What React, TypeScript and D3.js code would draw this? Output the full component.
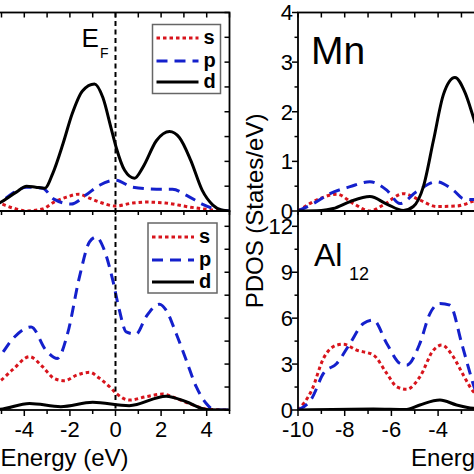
import React from "react";
import * as d3 from "d3";

// ---------- data (energy in eV, PDOS in states/eV) ----------
// Left column, upper panel
const tlDE = [-5.5, -5.1, -4.35, -3.9, -3.5, -3.1, -2.75, -2.3, -1.9, -1.45, -0.92, -0.55, -0.2, 0.03, 0.4, 0.83, 1.2, 1.8, 2.37, 2.8, 3.3, 3.8, 4.27, 4.65, 5.0];
const tlD = [0.08, 0.16, 0.38, 0.5, 0.48, 0.46, 0.76, 1.36, 1.96, 2.42, 2.56, 2.28, 1.68, 1.28, 0.82, 0.66, 0.88, 1.42, 1.6, 1.48, 1.02, 0.42, 0.12, 0.02, 0];
const tlPE = [-5.5, -5.1, -4.5, -3.9, -3.2, -2.7, -1.95, -1.3, -0.7, 0, 0.75, 1.8, 2.5, 3.1, 3.8, 4.55, 5.0];
const tlP = [0.08, 0.16, 0.36, 0.48, 0.46, 0.24, 0.14, 0.32, 0.52, 0.62, 0.48, 0.44, 0.44, 0.32, 0.14, 0.02, 0];
const tlSE = [-5.5, -5.1, -4.5, -3.9, -3.2, -2.7, -2.15, -1.6, -1.15, -0.7, 0, 0.75, 1.35, 2.2, 3.25, 4.27, 5.0];
const tlS = [0.22, 0.16, 0.06, 0.0, 0.04, 0.18, 0.28, 0.34, 0.26, 0.18, 0.1, 0.16, 0.18, 0.16, 0.08, 0.02, 0];

// Left column, lower panel
const blPE = [-5.5, -5.1, -4.5, -3.7, -3.05, -2.55, -2.1, -1.58, -1.14, -0.85, -0.48, -0.12, 0.17, 0.47, 0.9, 1.34, 1.93, 2.22, 2.66, 3.1, 3.54, 3.98, 4.35, 5.0];
const blP = [3.0, 3.48, 4.67, 5.43, 3.91, 3.37, 5.0, 8.7, 10.98, 11.3, 10.4, 8.48, 6.52, 5.1, 4.96, 6.09, 6.91, 6.52, 5.0, 3.26, 1.52, 0.43, 0, 0];
const blSE = [-5.5, -5.1, -4.5, -3.77, -3.2, -2.7, -2.24, -1.7, -1.14, -0.7, -0.26, 0.03, 0.6, 1.34, 2.08, 2.66, 3.4, 4.1, 5.0];
const blS = [1.5, 1.85, 2.65, 3.48, 2.83, 2.07, 1.91, 2.28, 2.46, 2.07, 1.52, 1.09, 0.65, 0.87, 1.04, 0.76, 0.33, 0.04, 0];
const blDE = [-5.5, -5.1, -3.77, -2.4, -1.0, 0.6, 2.22, 3.1, 3.98, 5.0];
const blD = [0.02, 0.04, 0.42, 0.22, 0.5, 0.28, 0.9, 0.54, 0.04, 0];

// Right column, upper panel (Mn)
const mnDE = [-10, -9, -8.49, -7.77, -6.92, -6.2, -5.49, -5.06, -4.63, -4.2, -3.77, -3.28, -2.85, -2.49, -2.2];
const mnD = [0, 0.01, 0.05, 0.19, 0.29, 0.14, 0.01, 0.09, 0.49, 1.42, 2.35, 2.69, 2.39, 1.89, 1.45];
const mnPE = [-10, -9.34, -8.63, -7.77, -6.92, -6.2, -5.63, -4.92, -4.06, -3.35, -2.92, -2.49, -2.2];
const mnP = [0, 0.15, 0.35, 0.49, 0.59, 0.42, 0.15, 0.39, 0.59, 0.42, 0.25, 0.23, 0.25];
const mnSE = [-10, -9.06, -8.34, -7.63, -6.92, -6.35, -5.49, -4.78, -4.06, -3.21, -2.49, -2.2];
const mnS = [0, 0.25, 0.34, 0.15, 0.0, 0.12, 0.35, 0.22, 0.09, 0.1, 0.2, 0.25];

// Right column, lower panel (Al12)
const alPE = [-10, -9.41, -8.91, -8.34, -7.77, -7.2, -6.77, -6.2, -5.63, -5.35, -4.78, -4.35, -3.92, -3.49, -2.99, -2.63, -2.46, -2.2];
const alP = [0, 0.76, 2.39, 3.04, 4.35, 5.65, 5.87, 4.35, 3.04, 2.93, 4.35, 6.3, 6.96, 6.85, 4.35, 2.39, 1.52, 0.8];
const alSE = [-10, -9.41, -8.91, -8.34, -8.06, -7.49, -6.77, -6.2, -5.77, -5.35, -4.78, -4.2, -3.85, -3.35, -2.92, -2.49, -2.2];
const alS = [0, 1.3, 3.37, 4.24, 4.3, 3.91, 3.59, 2.39, 1.52, 1.35, 2.17, 3.91, 4.24, 3.48, 2.28, 1.2, 0.8];
const alDE = [-10, -6.77, -5.35, -4.78, -3.92, -3.21, -2.49, -2.2];
const alD = [0, 0.07, 0.04, 0.33, 0.65, 0.33, 0.11, 0.08];

// ticks / labels
const xTickLabels = [-10, -8, -6, -4, -2, 0, 2, 4];
const yTopLabels = [0, 1, 2, 3, 4];
const yBotLabels = [0, 3, 6, 9, 12];
const legendKeys = ["s", "p", "d"];

// ---------- styles ----------
const FONT = "'Liberation Sans', Arial, Helvetica, sans-serif";
const RED = "#d8141c";
const BLUE = "#1420cc";
const styles: Record<string, { stroke: string; dash?: string }> = {
  s: { stroke: RED, dash: "3.5 3" },
  p: { stroke: BLUE, dash: "11 7" },
  d: { stroke: "#000" },
};

type Scale = d3.ScaleLinear<number, number>;

function zip(e: number[], v: number[]): [number, number][] {
  return e.map((x, i) => [x, v[i]]);
}

function Curve({ x, y, e, v, k, clip }: { x: Scale; y: Scale; e: number[]; v: number[]; k: string; clip: string }) {
  const gen = d3
    .line<[number, number]>()
    .x((d) => x(d[0]))
    .y((d) => y(d[1]))
    .curve(d3.curveMonotoneX);
  const st = styles[k];
  return (
    <path
      d={gen(zip(e, v)) || ""}
      fill="none"
      stroke={st.stroke}
      strokeWidth={3}
      strokeDasharray={st.dash}
      strokeLinejoin="round"
      clipPath={`url(#${clip})`}
    />
  );
}

function Legend({ x0, y0, w, h, rows }: { x0: number; y0: number; w: number; h: number; rows: number[] }) {
  return (
    <g>
      <rect x={x0} y={y0} width={w} height={h} fill="#fff" stroke="#666" strokeWidth={1.5} />
      {legendKeys.map((k, i) => (
        <g key={k}>
          <line
            x1={x0 + 4}
            x2={x0 + 46}
            y1={rows[i]}
            y2={rows[i]}
            stroke={styles[k].stroke}
            strokeWidth={3}
            strokeDasharray={styles[k].dash}
          />
          <text x={x0 + 51} y={rows[i] + 6} fontSize={20} fontWeight="bold" fontFamily={FONT}>
            {k}
          </text>
        </g>
      ))}
    </g>
  );
}

export default function App() {
  // panel geometry
  const yMid = 211;
  const yTopEdge = 12.5;
  const yBottom = 410;
  const xL = d3.scaleLinear().domain([-10, 5]).range([115.5 - 10 * 22.8, 115.5 + 5 * 22.8]);
  const xR = d3.scaleLinear().domain([-10, 5]).range([298, 298 + 15 * 23.35]);
  const yTop = d3.scaleLinear().domain([0, 4]).range([yMid, yTopEdge]);
  const yBot = d3.scaleLinear().domain([0, 13]).range([yBottom, yMid]);

  const eTicks = d3.range(-10, 6, 1);
  const topMinor = d3.range(0, 4.01, 0.5);
  const botMinor = d3.range(0, 13, 1.5);

  const [lx0, lx1] = xL.range();
  const [rx0, rx1] = xR.range();

  const panel = (x: Scale, y: Scale, id: string) => {
    const [a, b] = x.range();
    const [c, d] = y.range();
    return (
      <clipPath id={id} key={id}>
        <rect x={a} y={d} width={b - a} height={c - d} />
      </clipPath>
    );
  };

  return (
    <svg
      width={474}
      height={474}
      style={{ position: "fixed", left: 0, top: 0, background: "#fff" }}
      fontFamily={FONT}
    >
      <defs>
        {panel(xL, yTop, "cTL")}
        {panel(xL, yBot, "cBL")}
        {panel(xR, yTop, "cTR")}
        {panel(xR, yBot, "cBR")}
      </defs>
      <rect x={0} y={0} width={474} height={474} fill="#fff" />

      {/* Curves */}
      <Curve x={xL} y={yTop} e={tlSE} v={tlS} k="s" clip="cTL" />
      <Curve x={xL} y={yTop} e={tlPE} v={tlP} k="p" clip="cTL" />
      <Curve x={xL} y={yTop} e={tlDE} v={tlD} k="d" clip="cTL" />

      <Curve x={xL} y={yBot} e={blSE} v={blS} k="s" clip="cBL" />
      <Curve x={xL} y={yBot} e={blPE} v={blP} k="p" clip="cBL" />
      <Curve x={xL} y={yBot} e={blDE} v={blD} k="d" clip="cBL" />

      <Curve x={xR} y={yTop} e={mnSE} v={mnS} k="s" clip="cTR" />
      <Curve x={xR} y={yTop} e={mnPE} v={mnP} k="p" clip="cTR" />
      <Curve x={xR} y={yTop} e={mnDE} v={mnD} k="d" clip="cTR" />

      <Curve x={xR} y={yBot} e={alSE} v={alS} k="s" clip="cBR" />
      <Curve x={xR} y={yBot} e={alPE} v={alP} k="p" clip="cBR" />
      <Curve x={xR} y={yBot} e={alDE} v={alD} k="d" clip="cBR" />

      {/* Fermi level */}
      <line x1={xL(0)} x2={xL(0)} y1={yTopEdge} y2={yBottom} stroke="#000" strokeWidth={2} strokeDasharray="5 3.5" />

      {/* Frames */}
      <rect x={lx0} y={yTopEdge} width={lx1 - lx0} height={yMid - yTopEdge} fill="none" stroke="#000" strokeWidth={1.8} />
      <rect x={lx0} y={yMid} width={lx1 - lx0} height={yBottom - yMid} fill="none" stroke="#000" strokeWidth={1.8} />
      <rect x={rx0} y={yTopEdge} width={rx1 - rx0} height={yMid - yTopEdge} fill="none" stroke="#000" strokeWidth={1.8} />
      <rect x={rx0} y={yMid} width={rx1 - rx0} height={yBottom - yMid} fill="none" stroke="#000" strokeWidth={1.8} />

      {/* energy ticks: top (inward), shared (inward), bottom (outward) */}
      {[xL, xR].map((x, j) =>
        eTicks.map((t) => (
          <g key={`et${j}${t}`} stroke="#000" strokeWidth={1.5}>
            <line x1={x(t)} x2={x(t)} y1={yTopEdge} y2={yTopEdge + 5} />
            <line x1={x(t)} x2={x(t)} y1={yMid} y2={yMid + 4} />
            <line x1={x(t)} x2={x(t)} y1={yBottom} y2={yBottom + (t % 2 === 0 ? 6 : 4)} />
          </g>
        ))
      )}

      {/* right-side inward ticks of left column */}
      {topMinor.map((t) => (
        <line key={`rt${t}`} x1={lx1} x2={lx1 - 5} y1={yTop(t)} y2={yTop(t)} stroke="#000" strokeWidth={1.5} />
      ))}
      {botMinor.map((t) => (
        <line key={`rb${t}`} x1={lx1} x2={lx1 - 5} y1={yBot(t)} y2={yBot(t)} stroke="#000" strokeWidth={1.5} />
      ))}

      {/* left-side outward ticks of right column */}
      {topMinor.map((t) => (
        <line key={`lt${t}`} x1={rx0} x2={rx0 - (t % 1 === 0 ? 6 : 3.5)} y1={yTop(t)} y2={yTop(t)} stroke="#000" strokeWidth={1.5} />
      ))}
      {botMinor.map((t) => (
        <line key={`lb${t}`} x1={rx0} x2={rx0 - (t % 3 === 0 ? 6 : 3.5)} y1={yBot(t)} y2={yBot(t)} stroke="#000" strokeWidth={1.5} />
      ))}

      {/* y tick labels (right column) */}
      {yTopLabels.map((t) => (
        <text key={`ylt${t}`} x={rx0 - 5} y={yTop(t)} dy="0.36em" textAnchor="end" fontSize={22}>
          {t}
        </text>
      ))}
      {yBotLabels.map((t) => (
        <text key={`ylb${t}`} x={rx0 - 5} y={yBot(t)} dy="0.36em" textAnchor="end" fontSize={22}>
          {t}
        </text>
      ))}

      {/* x tick labels */}
      {xTickLabels.map((t) => (
        <text key={`xl${t}`} x={xL(t)} y={437} textAnchor="middle" fontSize={22}>
          {t}
        </text>
      ))}
      {xTickLabels.map((t) => (
        <text key={`xr${t}`} x={xR(t)} y={437} textAnchor="middle" fontSize={22}>
          {t}
        </text>
      ))}

      {/* axis titles */}
      <text x={(lx0 + lx1) / 2 + 6} y={466} textAnchor="middle" fontSize={24}>
        Energy (eV)
      </text>
      <text x={(rx0 + rx1) / 2 + 2} y={466} textAnchor="middle" fontSize={24}>
        Energy (eV)
      </text>
      <text transform={`translate(263,${yMid}) rotate(-90)`} textAnchor="middle" fontSize={24}>
        PDOS (States/eV)
      </text>

      {/* panel annotations */}
      <text x={81.5} y={47} fontSize={26}>
        E
      </text>
      <text x={100} y={58} fontSize={14}>
        F
      </text>
      <text x={311} y={64} fontSize={39}>
        Mn
      </text>
      <text x={314} y={266} fontSize={32}>
        Al
      </text>
      <text x={349} y={280} fontSize={18}>
        12
      </text>

      {/* legends */}
      <Legend x0={152.5} y0={24.5} w={68} h={69} rows={[38, 61, 82]} />
      <Legend x0={148} y0={223} w={69} h={70} rows={[237, 260, 282]} />
    </svg>
  );
}
